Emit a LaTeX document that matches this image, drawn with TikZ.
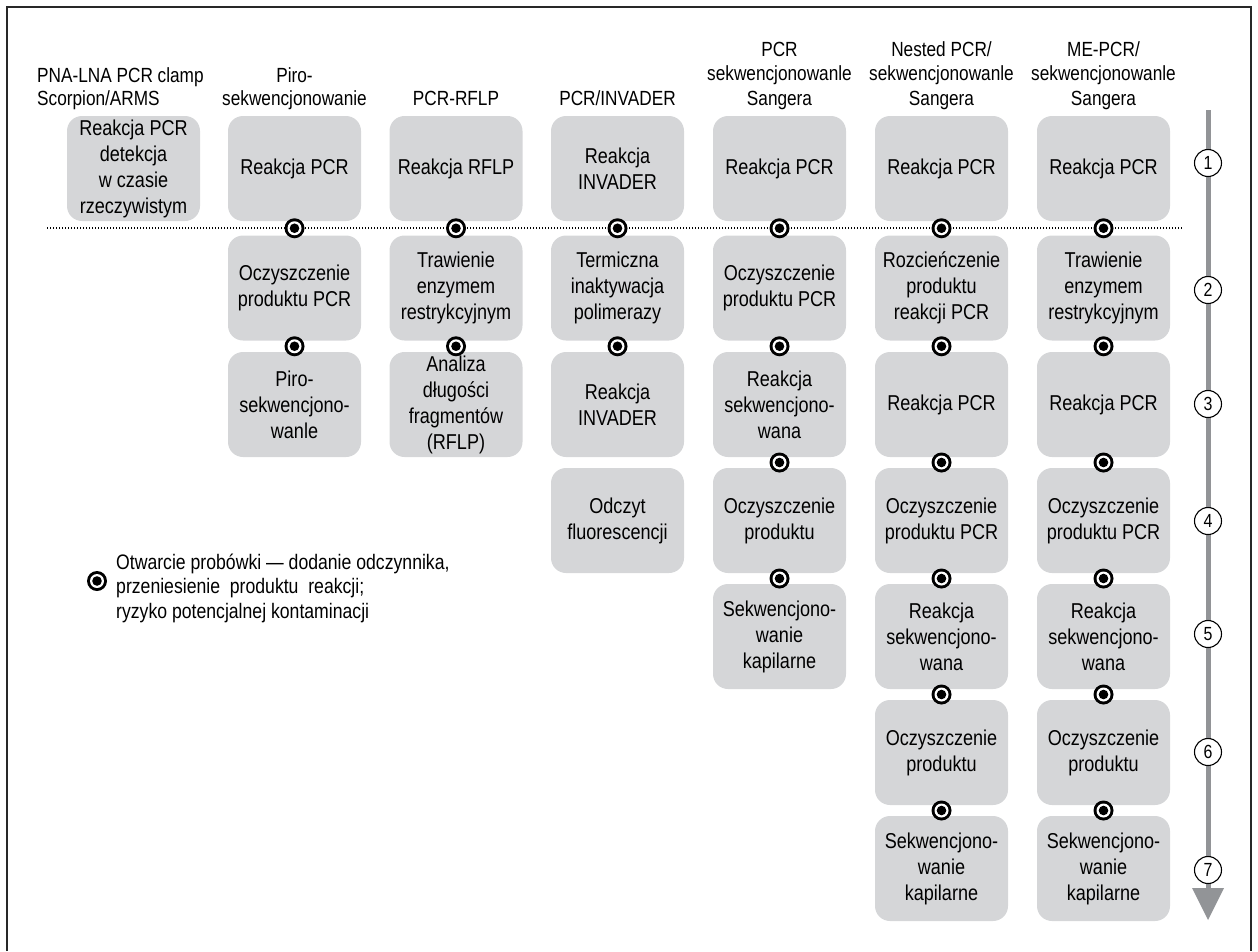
\documentclass[tikz,border=0pt]{standalone}
\usepackage{fontspec}
\setmainfont{Liberation Sans}[FakeStretch=0.84]
\usetikzlibrary{calc}
\definecolor{boxgray}{RGB}{213,214,216}
\definecolor{arrowgray}{RGB}{146,148,151}
\definecolor{framegray}{RGB}{40,40,40}
\newcommand\tubemark[1]{%
  \fill[black] (#1) circle (10pt);
  \fill[white] (#1) circle (7pt);
  \fill[black] (#1) circle (4.8pt);}
\begin{document}
\begin{tikzpicture}[x=1pt,y=-1pt,
  stepbox/.style={rectangle, rounded corners=15pt, fill=boxgray, minimum width=133pt,
    minimum height=105pt, inner sep=2pt, align=center, font=\fontsize{21.5}{26}\selectfont},
  hdr/.style={anchor=base, inner sep=0pt, font=\fontsize{20.5}{24}\selectfont},
  numc/.style={circle, draw=black, line width=1.1pt, fill=white, minimum size=27pt,
    inner sep=0pt, font=\fontsize{19}{19}\selectfont},
  legtext/.style={anchor=west, inner sep=0pt, align=left, font=\fontsize{21}{24.5}\selectfont},
]
\useasboundingbox (0,0) rectangle (1258,951);
% frame
\draw[framegray, line width=1.3pt] (7,951) -- (7,7) -- (1251,7) -- (1251,951);

% headers
\node[hdr, anchor=base west] (h1a) at (37,82) {PNA-LNA PCR clamp};
\node[hdr, anchor=base west] (h1b) at (37,105) {Scorpion/ARMS};
\node[hdr] (h2a) at (294.5,82) {Piro-};
\node[hdr] (h2b) at (294.5,105) {sekwencjonowanie};
\node[hdr] (h3a) at (456,105) {PCR-RFLP};
\node[hdr] (h4a) at (617.5,105) {PCR/INVADER};
\node[hdr] (h5a) at (779.5,56) {PCR};
\node[hdr] (h5b) at (779.5,80.5) {sekwencjonowanle};
\node[hdr] (h5c) at (779.5,105) {Sangera};
\node[hdr] (h6a) at (941.5,56) {Nested PCR/};
\node[hdr] (h6b) at (941.5,80.5) {sekwencjonowanle};
\node[hdr] (h6c) at (941.5,105) {Sangera};
\node[hdr] (h7a) at (1103.5,56) {ME-PCR/};
\node[hdr] (h7b) at (1103.5,80.5) {sekwencjonowanle};
\node[hdr] (h7c) at (1103.5,105) {Sangera};

% timeline arrow
\coordinate (atop) at (1208,110);
\coordinate (abot) at (1208,890);
\draw[arrowgray, line width=5pt] (atop) -- (abot);
\fill[arrowgray] (1192,888) -- (1224,888) -- (1208,920) -- cycle;
\node[numc] (n1) at (1208,163) {1};
\node[numc] (n2) at (1208,290) {2};
\node[numc] (n3) at (1208,404) {3};
\node[numc] (n4) at (1208,521) {4};
\node[numc] (n5) at (1208,634) {5};
\node[numc] (n6) at (1208,752) {6};
\node[numc] (n7) at (1208,870) {7};

% boxes
\node[stepbox] (c1r1) at (133.5,168.5) {Reakcja PCR\\detekcja\\w czasie\\rzeczywistym};

\node[stepbox] (c2r1) at (294.5,168.5) {Reakcja PCR};
\node[stepbox] (c2r2) at (294.5,288) {Oczyszczenie\\produktu PCR};
\node[stepbox] (c2r3) at (294.5,404.5) {Piro-\\sekwencjono-\\wanle};

\node[stepbox] (c3r1) at (456,168.5) {Reakcja RFLP};
\node[stepbox] (c3r2) at (456,288) {Trawienie\\enzymem\\restrykcyjnym};
\node[stepbox] (c3r3) at (456,404.5) {Analiza\\długości\\fragmentów\\(RFLP)};

\node[stepbox] (c4r1) at (617.5,168.5) {Reakcja\\INVADER};
\node[stepbox] (c4r2) at (617.5,288) {Termiczna\\inaktywacja\\polimerazy};
\node[stepbox] (c4r3) at (617.5,404.5) {Reakcja\\INVADER};
\node[stepbox] (c4r4) at (617.5,520.5) {Odczyt\\fluorescencji};

\node[stepbox] (c5r1) at (779.5,168.5) {Reakcja PCR};
\node[stepbox] (c5r2) at (779.5,288) {Oczyszczenie\\produktu PCR};
\node[stepbox] (c5r3) at (779.5,404.5) {Reakcja\\sekwencjono-\\wana};
\node[stepbox] (c5r4) at (779.5,520.5) {Oczyszczenie\\produktu};
\node[stepbox] (c5r5) at (779.5,636.5) {Sekwencjono-\\wanie\\kapilarne};

\node[stepbox] (c6r1) at (941.5,168.5) {Reakcja PCR};
\node[stepbox] (c6r2) at (941.5,288) {Rozcieńczenie\\produktu\\reakcji PCR};
\node[stepbox] (c6r3) at (941.5,404.5) {Reakcja PCR};
\node[stepbox] (c6r4) at (941.5,520.5) {Oczyszczenie\\produktu PCR};
\node[stepbox] (c6r5) at (941.5,636.5) {Reakcja\\sekwencjono-\\wana};
\node[stepbox] (c6r6) at (941.5,752.5) {Oczyszczenie\\produktu};
\node[stepbox] (c6r7) at (941.5,868.5) {Sekwencjono-\\wanie\\kapilarne};

\node[stepbox] (c7r1) at (1103.5,168.5) {Reakcja PCR};
\node[stepbox] (c7r2) at (1103.5,288) {Trawienie\\enzymem\\restrykcyjnym};
\node[stepbox] (c7r3) at (1103.5,404.5) {Reakcja PCR};
\node[stepbox] (c7r4) at (1103.5,520.5) {Oczyszczenie\\produktu PCR};
\node[stepbox] (c7r5) at (1103.5,636.5) {Reakcja\\sekwencjono-\\wana};
\node[stepbox] (c7r6) at (1103.5,752.5) {Oczyszczenie\\produktu};
\node[stepbox] (c7r7) at (1103.5,868.5) {Sekwencjono-\\wanie\\kapilarne};

% dotted separator
\coordinate (dl) at (47,228);
\coordinate (dr) at (1182,228);
\draw[black, line width=1.2pt, dash pattern=on 1.3pt off 1.7pt] (dl) -- (dr);

% tube-opening markers
\foreach \a/\b in {c2r1/c2r2, c2r2/c2r3,
                   c3r1/c3r2, c3r2/c3r3,
                   c4r1/c4r2, c4r2/c4r3,
                   c5r1/c5r2, c5r2/c5r3, c5r3/c5r4, c5r4/c5r5,
                   c6r1/c6r2, c6r2/c6r3, c6r3/c6r4, c6r4/c6r5, c6r5/c6r6, c6r6/c6r7,
                   c7r1/c7r2, c7r2/c7r3, c7r3/c7r4, c7r4/c7r5, c7r5/c7r6, c7r6/c7r7}
  {\tubemark{$(\a.south)!0.5!(\b.north)$}}

% legend
\coordinate (legm) at (97,581);
\tubemark{legm}
\node[legtext] (leg) at (116,588) {Otwarcie probówki — dodanie odczynnika,\\przeniesienie\ \ produktu\ \ reakcji;\\ryzyko potencjalnej kontaminacji};
\end{tikzpicture}
\end{document}
